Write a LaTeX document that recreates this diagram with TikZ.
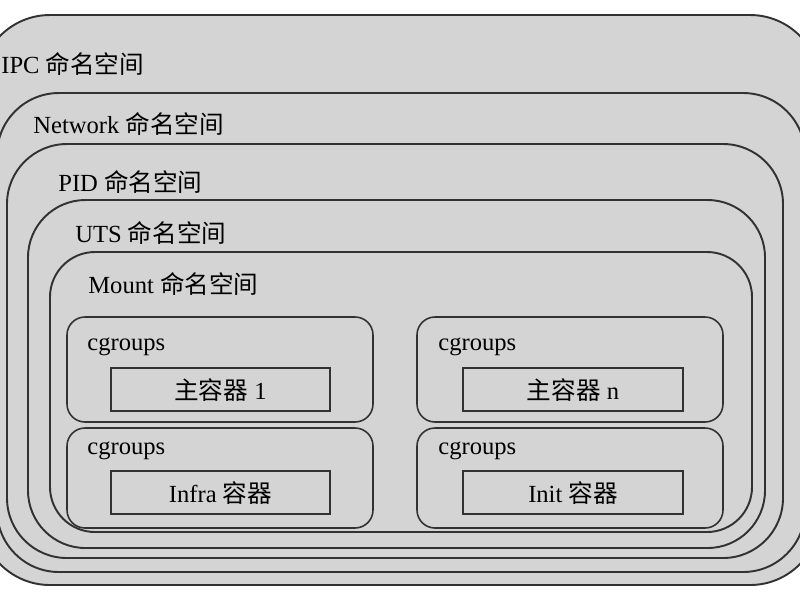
\documentclass[tikz,border=0pt]{standalone}
\usepackage{fontspec}
\setmainfont{Liberation Serif}
\newfontfamily\cjk{Noto Sans CJK SC}
\newcommand{\zh}[1]{{\cjk #1}}
\definecolor{bggray}{RGB}{212,212,212}
\definecolor{edgegray}{RGB}{50,50,50}

\begin{document}
\begin{tikzpicture}[x=0.02cm,y=-0.02cm,
		ns/.style={draw=edgegray,fill=bggray,line width=1.1pt},
		cg/.style={draw=edgegray,fill=bggray,line width=0.9pt,rounded corners=0.36cm},
		ct/.style={draw=edgegray,fill=bggray,line width=1.1pt},
		lbl/.style={anchor=base west,inner sep=0pt,font=\fontsize{14}{17}\selectfont},
		ctlbl/.style={anchor=base,inner sep=0pt,font=\fontsize{14}{17}\selectfont}]
		\useasboundingbox (0,0) rectangle (800,600);
		\clip (0,0) rectangle (800,600);
		% namespaces, outside in
		\draw[ns,rounded corners=1.4cm] (-20,15) rectangle (820,585);
		\node[lbl] (ipc) at (1,73) {IPC \zh{命名空间}};
		\draw[ns,rounded corners=1.24cm] (-3,93) rectangle (805,572);
		\node[lbl] (net) at (33,133) {Network \zh{命名空间}};
		\draw[ns,rounded corners=1.2cm] (7,144) rectangle (783,558);
		\node[lbl] (pid) at (58,191) {PID \zh{命名空间}};
		\draw[ns,rounded corners=1.15cm] (28,200) rectangle (765,548);
		\node[lbl] (uts) at (75,242) {UTS \zh{命名空间}};
		\draw[ns,rounded corners=0.9cm] (50,252) rectangle (752,532);
		\node[lbl] (mnt) at (88,293) {Mount \zh{命名空间}};
		% cgroups with containers
		\draw[cg] (67,317) rectangle (373,422);
		\node[lbl] (cg1) at (87,350) {cgroups};
		\draw[ct] (111,368) rectangle (330,411);
		\node[ctlbl] (main1) at (220.5,399) {\zh{主容器} 1};
		\draw[cg] (67,428) rectangle (373,528);
		\node[lbl] (cg2) at (87,454) {cgroups};
		\draw[ct] (111,471) rectangle (330,514);
		\node[ctlbl] (infra) at (220.5,502) {Infra \zh{容器}};
		\draw[cg] (417,317) rectangle (723,422);
		\node[lbl] (cg3) at (438,350) {cgroups};
		\draw[ct] (463,368) rectangle (683,411);
		\node[ctlbl] (mainn) at (573,399) {\zh{主容器} n};
		\draw[cg] (417,428) rectangle (723,528);
		\node[lbl] (cg4) at (438,454) {cgroups};
		\draw[ct] (463,471) rectangle (683,514);
		\node[ctlbl] (init) at (573,502) {Init \zh{容器}};
	\end{tikzpicture}
\end{document}
